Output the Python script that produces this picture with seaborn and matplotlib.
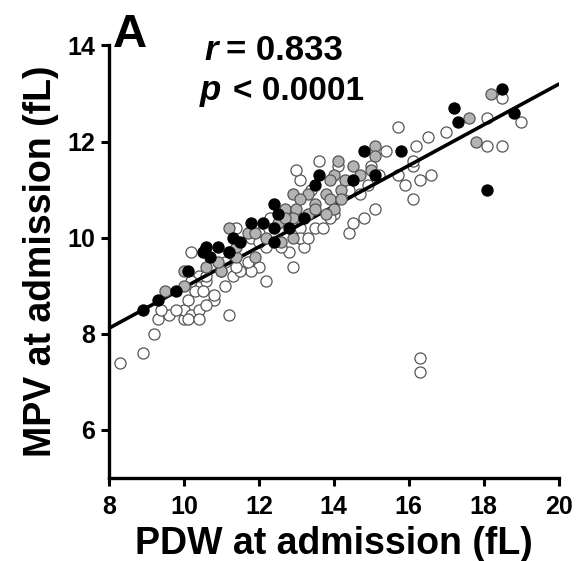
import matplotlib
matplotlib.use('Agg')
import matplotlib.pyplot as plt
import pandas as pd
import seaborn as sns

# PDW / MPV at admission (fL), by marker group
open_pdw = [8.3, 8.9, 9.2, 9.3, 9.6, 9.4, 10.0, 10.0, 9.8, 10.2, 10.4, 10.1, 11.2, 10.8,
            10.2, 11.4, 12.2, 12.0, 12.9, 12.8, 10.6, 11.1, 11.3, 10.1, 11.8, 11.5, 11.7, 13.1,
            10.8, 10.3, 10.5, 10.6, 10.4, 11.0, 12.2, 12.6, 13.1, 13.1, 13.2, 12.3, 12.0, 11.4,
            11.1, 11.8, 11.2, 12.0, 10.4, 10.6, 10.2, 15.7, 15.4, 16.1, 16.1, 15.9, 15.7, 15.1,
            14.8, 14.4, 14.5, 14.7, 14.9, 15.2, 13.5, 13.7, 14.0, 13.4, 13.1, 13.3, 13.9, 13.6,
            14.1, 15.0, 14.4, 16.5, 17.0, 18.1, 18.1, 18.5, 19.0, 18.5, 16.2, 16.6, 16.3, 16.1,
            16.3, 16.3, 13.0]
open_mpv = [7.4, 7.6, 8.0, 8.3, 8.4, 8.5, 8.3, 8.5, 8.5, 8.4, 8.5, 8.3, 8.4, 8.7,
            9.7, 10.2, 9.1, 9.4, 9.4, 9.7, 9.1, 9.0, 9.2, 8.7, 9.3, 9.3, 9.5, 11.2,
            8.8, 8.9, 8.9, 8.6, 8.3, 9.3, 9.8, 9.8, 10.0, 10.2, 9.8, 10.4, 10.1, 9.4,
            9.5, 10.0, 9.7, 9.9, 9.2, 9.2, 9.1, 12.3, 11.8, 11.5, 10.8, 11.1, 11.3, 10.6,
            10.4, 10.1, 10.3, 10.9, 11.1, 11.3, 10.2, 10.2, 10.5, 11.0, 10.0, 10.0, 10.4, 11.6,
            11.5, 11.5, 11.0, 12.1, 12.2, 12.5, 11.9, 11.9, 12.4, 12.9, 11.9, 11.3, 11.2, 11.6,
            7.5, 7.2, 11.4]

grey_pdw = [9.5, 10.0, 10.0, 11.2, 11.7, 11.9, 11.4, 11.9, 10.6, 11.0, 12.9, 12.7, 12.6,
            12.9, 12.2, 11.4, 10.9, 13.0, 13.3, 12.9, 12.5, 15.1, 15.1, 14.1, 14.5, 14.7,
            15.0, 14.0, 13.1, 13.3, 13.8, 13.9, 14.2, 14.2, 14.0, 13.8, 13.5, 13.5, 12.7,
            14.3, 13.9, 18.2, 17.6, 17.8]
grey_mpv = [8.9, 9.0, 9.3, 10.2, 10.1, 10.1, 9.6, 9.6, 9.4, 9.3, 10.9, 10.6, 9.9,
            10.0, 10.0, 9.8, 9.5, 10.6, 10.9, 10.4, 10.3, 11.9, 11.7, 11.6, 11.5, 11.3,
            11.4, 11.3, 10.8, 10.5, 10.9, 10.8, 11.0, 10.8, 10.6, 10.5, 10.7, 10.6, 10.4,
            11.2, 11.2, 13.0, 12.5, 12.0]

black_pdw = [8.9, 9.3, 9.8, 10.1, 10.6, 10.9, 11.2, 10.7, 10.5, 11.3, 11.5, 11.8, 12.1,
             12.4, 12.4, 12.5, 12.4, 12.8, 13.2, 13.5, 13.6, 14.5, 14.8, 15.1, 15.8, 17.2,
             17.3, 18.5, 18.8, 18.1]
black_mpv = [8.5, 8.7, 8.9, 9.3, 9.8, 9.8, 9.7, 9.6, 9.7, 10.0, 9.9, 10.3, 10.3,
             10.2, 10.7, 10.5, 9.9, 10.2, 10.4, 11.1, 11.3, 11.2, 11.8, 11.3, 11.8, 12.7,
             12.4, 13.1, 12.6, 11.0]

r_text = 'r'
r_value = '= 0.833'
p_text = 'p'
p_value = '< 0.0001'
panel = 'A'
x_ticks = [8, 10, 12, 14, 16, 18, 20]
y_ticks = [6, 8, 10, 12, 14]

df = pd.DataFrame({
    'pdw': open_pdw + grey_pdw + black_pdw,
    'mpv': open_mpv + grey_mpv + black_mpv,
})

sns.set_style('ticks')
plt.rcParams['font.family'] = ['Liberation Sans', 'DejaVu Sans']
plt.rcParams['font.weight'] = 'bold'
plt.rcParams.update({'text.color': 'black', 'axes.labelcolor': 'black',
                     'xtick.color': 'black', 'ytick.color': 'black',
                     'axes.edgecolor': 'black'})

fig = plt.figure(figsize=(5.76, 5.61), dpi=100)
ax = fig.add_axes([0.189, 0.148, 0.781, 0.771])
ax.set_xlim(8, 20)
ax.set_ylim(5, 14)

ms = 64
sns.scatterplot(x=open_pdw, y=open_mpv, ax=ax, s=ms, color='white',
                edgecolor='#555555', linewidth=0.9, zorder=2)
sns.regplot(data=df, x='pdw', y='mpv', ax=ax, scatter=False, ci=None, truncate=False,
            line_kws={'color': 'black', 'lw': 2.6, 'zorder': 3})
sns.scatterplot(x=grey_pdw, y=grey_mpv, ax=ax, s=ms, color='#b3b3b3',
                edgecolor='#555555', linewidth=0.9, zorder=4)
sns.scatterplot(x=black_pdw, y=black_mpv, ax=ax, s=ms, color='black',
                edgecolor='black', linewidth=0.9, zorder=5)

ax.set_xlim(8, 20)
ax.set_ylim(5, 14)
ax.set_xticks(x_ticks)
ax.set_yticks(y_ticks)
ax.tick_params(width=2.2, length=6, labelsize=18, pad=4)
ax.tick_params(axis='x', pad=6)
for lab in ax.get_xticklabels() + ax.get_yticklabels():
    lab.set_fontweight('bold')
for s in ['left', 'bottom']:
    ax.spines[s].set_linewidth(2.4)
sns.despine(ax=ax)

ax.set_xlabel('PDW at admission (fL)', fontsize=27, fontweight='bold', labelpad=5)
ax.set_ylabel('MPV at admission (fL)', fontsize=27, fontweight='bold', labelpad=6)

fig.text(0.196, 0.916, panel, fontsize=34, fontweight='bold', va='baseline')
fig.text(0.355, 0.893, r_text, fontsize=25, fontweight='bold', style='italic', va='baseline')
fig.text(0.392, 0.893, r_value, fontsize=25, fontweight='bold', va='baseline')
fig.text(0.347, 0.822, p_text, fontsize=25, fontweight='bold', style='italic', va='baseline')
fig.text(0.405, 0.822, p_value, fontsize=24, fontweight='bold', va='baseline')

fig.savefig('out.png', dpi=100)
